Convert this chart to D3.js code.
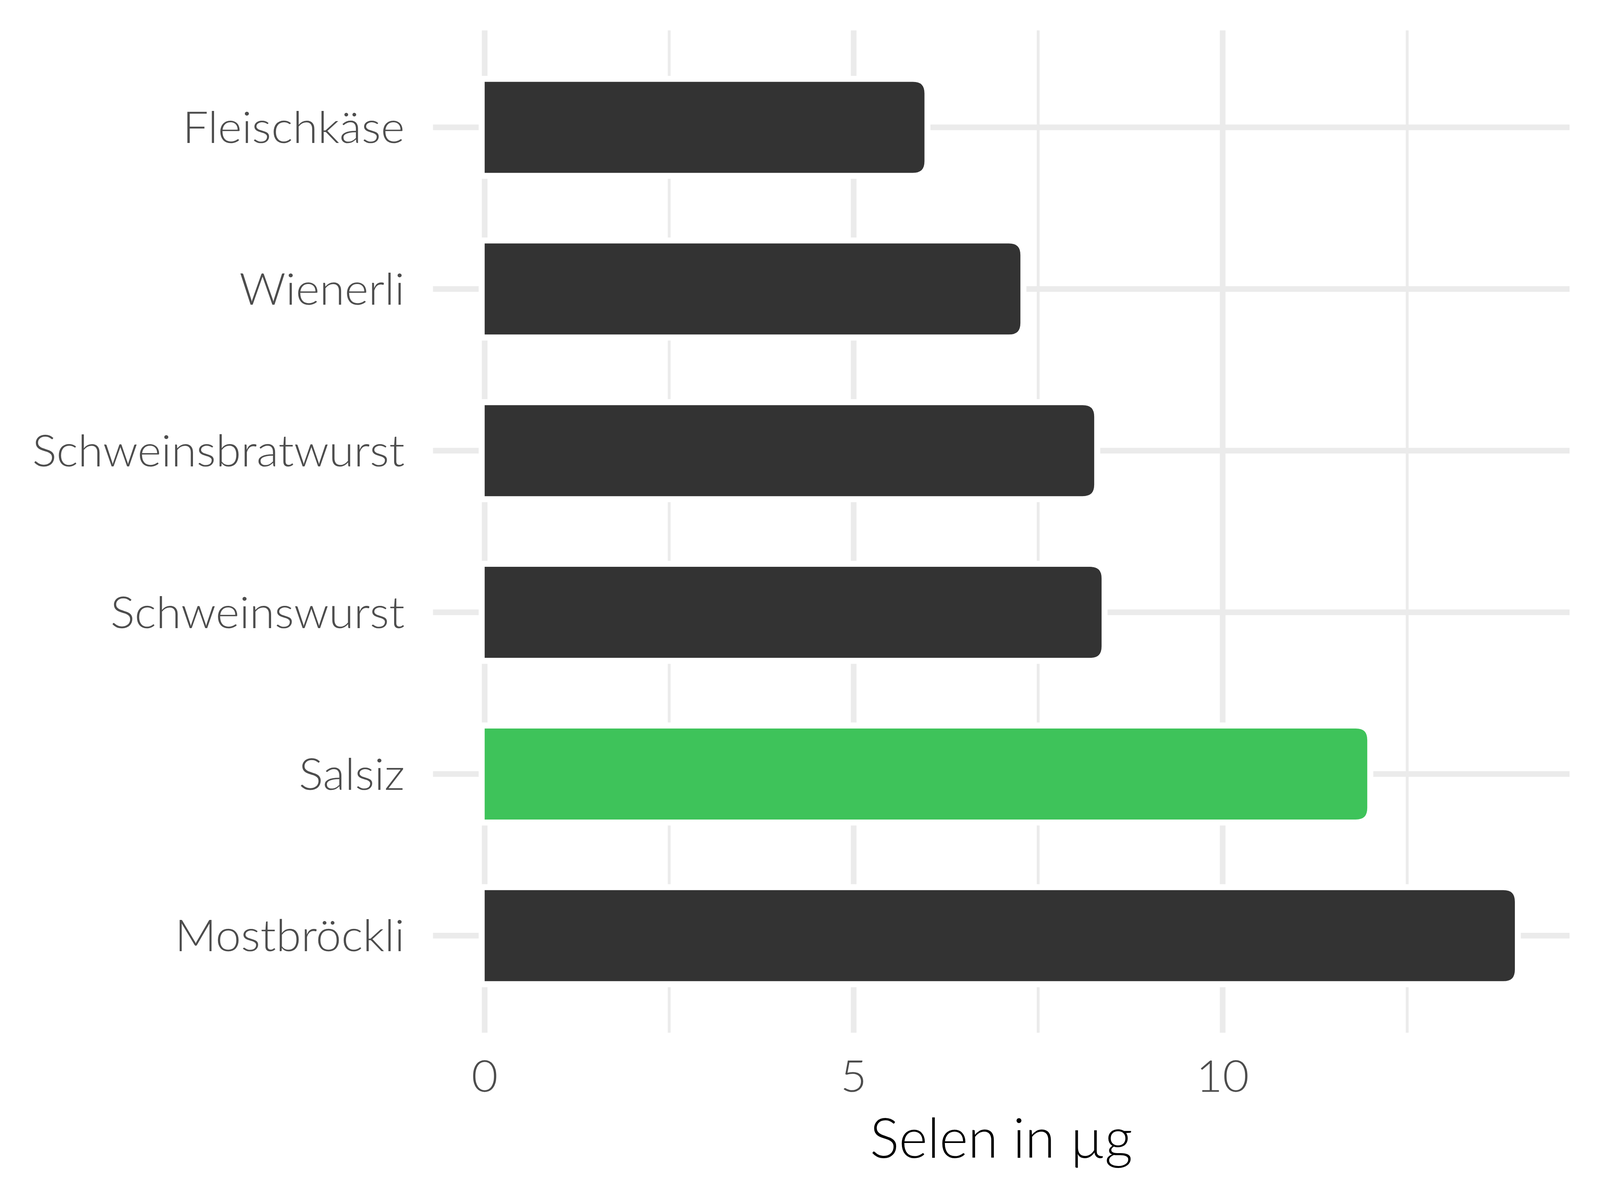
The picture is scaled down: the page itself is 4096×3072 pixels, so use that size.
<!DOCTYPE html>
<html><head><meta charset="utf-8">
<script src="https://cdn.jsdelivr.net/npm/d3@7"></script>
<style>html,body{margin:0;padding:0;background:#fff;}svg{display:block;}</style>
</head><body>
<script>
const categories = ["Fleischkäse", "Wienerli", "Schweinsbratwurst", "Schweinswurst", "Salsiz", "Mostbröckli"];
const values = [6.0, 7.3, 8.3, 8.4, 12.0, 14.0];
const highlight = ["Salsiz"];
const majorTicks = [0, 5, 10];
const minorTicks = [2.5, 7.5, 12.5];
const xTitle = "Selen in µg";

const s = 4096 / 4800;
const W = 4096, H = 3072;
const svg = d3.select("body").append("svg").attr("width", W).attr("height", H);
svg.append("rect").attr("width", W).attr("height", H).attr("fill", "#fff");

const unit = 221.4 * s;
const x0px = 1454 * s;
const x = d3.scaleLinear().domain([0, 14]).range([x0px, x0px + 14 * unit]);
const y = d3.scalePoint().domain(categories).range([382 * s, 2807 * s]);
const step = y.step();
const panelL = x(-0.7), panelR = x(14.7);
const panelT = y(categories[0]) - 0.6 * step, panelB = y(categories[categories.length - 1]) + 0.6 * step;

const grid = svg.append("g");
grid.selectAll(".minor").data(minorTicks).join("line")
  .attr("x1", d => x(d)).attr("x2", d => x(d)).attr("y1", panelT).attr("y2", panelB)
  .attr("stroke", "#EBEBEB").attr("stroke-width", 8.5 * s);
grid.selectAll(".major").data(majorTicks).join("line")
  .attr("x1", d => x(d)).attr("x2", d => x(d)).attr("y1", panelT).attr("y2", panelB)
  .attr("stroke", "#EBEBEB").attr("stroke-width", 17 * s);
grid.selectAll(".hmaj").data(categories).join("line")
  .attr("x1", panelL).attr("x2", panelR).attr("y1", d => y(d)).attr("y2", d => y(d))
  .attr("stroke", "#EBEBEB").attr("stroke-width", 17 * s);

const sw = 18 * s;
const R = 44 * s;
const bh = 0.6 * step;
function barPath(v, c) {
  const xl = x(0) - sw / 2, xr = x(v);
  const t = c - bh / 2, b = c + bh / 2;
  const r = Math.min(R, (xr - xl) / 2);
  return `M${xl},${t} L${xr - r},${t} Q${xr},${t} ${xr},${t + r} L${xr},${b - r} Q${xr},${b} ${xr - r},${b} L${xl},${b} Z`;
}
const data = categories.map((c, i) => ({ c, v: values[i] }));
svg.append("g").selectAll("path").data(data).join("path")
  .attr("d", d => barPath(d.v, y(d.c)))
  .attr("fill", d => highlight.includes(d.c) ? "#3EC35A" : "#333333")
  .attr("stroke", "#fff").attr("stroke-width", sw).attr("stroke-linejoin", "round");

const font = "Lato, 'Open Sans', sans-serif";
const tickSize = 131 * s;
const capH = 94 * s;
const ylab = svg.append("g").selectAll("text").data(categories).join("text")
  .attr("x", 1214 * s).attr("y", d => y(d) + capH / 2)
  .attr("text-anchor", "end").attr("font-family", font).attr("font-weight", 300)
  .attr("font-size", tickSize).attr("fill", "#4D4D4D").text(d => d);
// horizontal compression to match narrow reference font
let refW = 0;
ylab.each(function (d) { if (d === "Schweinsbratwurst") refW = this.getComputedTextLength(); });
const comp = (1117 * s) / refW;
ylab.each(function () {
  const w = this.getComputedTextLength();
  d3.select(this).attr("textLength", w * comp).attr("lengthAdjust", "spacingAndGlyphs");
});

svg.append("g").selectAll("text").data(majorTicks).join("text")
  .attr("x", d => x(d)).attr("y", 3275 * s)
  .attr("text-anchor", "middle").attr("font-family", font).attr("font-weight", 300)
  .attr("font-size", tickSize).attr("fill", "#4D4D4D").text(d => d)
  .each(function () {
    const w = this.getComputedTextLength();
    d3.select(this).attr("textLength", w * comp).attr("lengthAdjust", "spacingAndGlyphs");
  });

const title = svg.append("text").attr("x", (panelL + panelR) / 2).attr("y", 3474 * s)
  .attr("text-anchor", "middle").attr("font-family", font).attr("font-weight", 300)
  .attr("font-size", 166 * s).attr("fill", "#000").text(xTitle);
const tw = title.node().getComputedTextLength();
title.attr("textLength", 788 * s).attr("lengthAdjust", "spacingAndGlyphs");
</script>
</body></html>
